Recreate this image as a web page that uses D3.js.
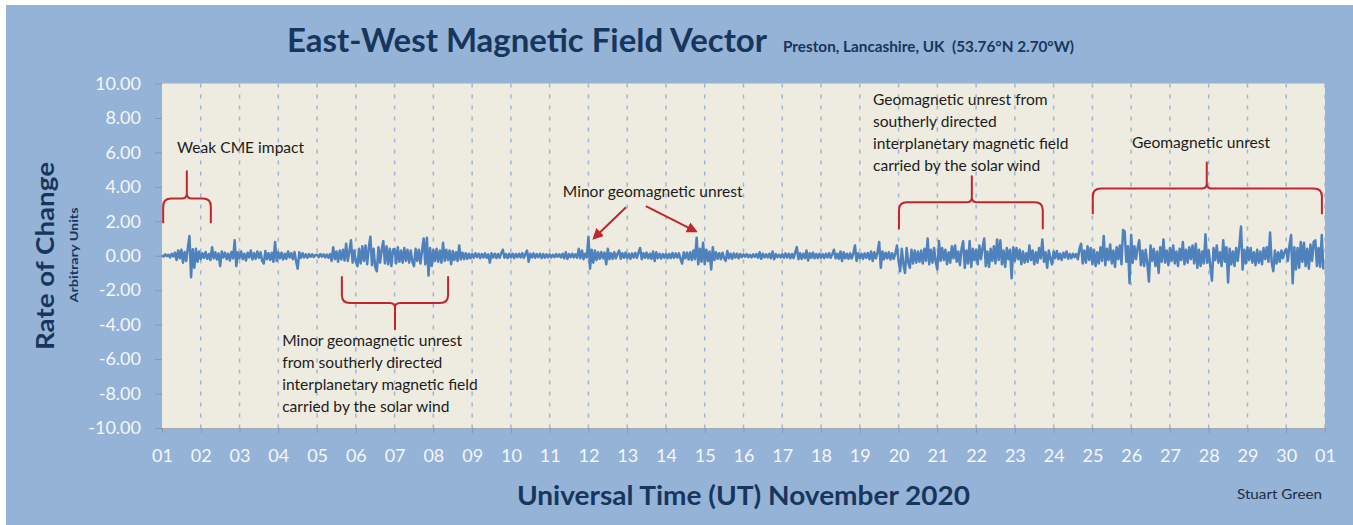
<!DOCTYPE html>
<html>
<head>
<meta charset="utf-8">
<script src="https://cdn.jsdelivr.net/npm/d3@7"></script>
<style>
    html, body { margin: 0; padding: 0; background: #ffffff; }
    svg { display: block; font-family: Lato, "Open Sans", sans-serif; }
</style>
</head>
<body>
<div id="chart"></div>
<script>
// x axis: one tick per day, 1 Nov .. 1 Dec
const dayLabels = ["01","02","03","04","05","06","07","08","09","10","11","12","13","14","15",
    "16","17","18","19","20","21","22","23","24","25","26","27","28","29","30","01"];
const yTicks = [10, 8, 6, 4, 2, 0, -2, -4, -6, -8, -10];

// hourly rate of change (hundredths of a unit), one row of 24 per day
const rateDays01to07 = [
    3,-5,8,-2,6,-10,12,-4,18,-25,30,-15,35,-40,22,-30,45,115,-125,38,-70,40,-35,25,
    -20,15,-12,22,-18,10,-25,50,-15,20,-22,14,-60,25,-10,18,-20,12,-28,22,-15,90,-60,20,
    -15,25,-20,12,-28,18,-10,30,-22,15,-18,25,-12,20,-30,-45,28,-20,15,-25,18,-35,80,-30,
    20,-15,18,-22,12,-18,25,-10,15,-20,22,-30,-75,20,-12,15,-10,8,-12,10,-6,9,-8,5,
    6,-8,10,-5,8,-10,7,-12,10,-30,50,-20,25,-35,30,-22,35,-28,70,-30,25,90,-40,30,
    -35,-60,40,-45,55,-30,60,-50,45,110,-55,40,-65,-90,50,-40,35,85,-45,55,-50,40,-60,35,
    40,-45,50,-35,30,-40,45,-30,35,-40,30,-35,-60,40,-30,35,-45,30,100,-50,105,-115,45,-60
];
const rateDays08to14 = [
    35,-30,40,-35,30,-40,75,-30,35,-25,30,-50,28,-25,20,-30,60,-22,18,-20,15,-18,12,-15,
    10,-12,15,-8,12,-14,10,-10,14,-12,8,-40,15,-10,12,-14,10,-12,15,35,-12,10,-14,12,
    -10,12,-14,10,-8,12,-10,15,-12,10,30,-35,12,-10,14,-12,10,-8,12,-14,10,-12,8,-10,
    8,-10,6,-8,10,-6,8,-10,12,-15,20,-18,10,-8,12,-10,8,-12,40,-15,30,-20,12,-10,
    110,-75,35,-40,30,-25,20,-18,22,-15,18,-50,40,-20,15,-18,20,-15,12,30,-18,15,-12,18,
    -15,12,-18,14,-10,16,-12,18,45,-20,15,-12,18,-15,12,-18,25,-30,20,-14,12,-16,10,-12,
    12,-15,10,-14,16,-12,14,-10,15,-18,-45,20,-15,18,-22,20,-25,30,-20,105,-50,40,-35,75
];
const rateDays15to21 = [
    -50,35,-30,25,-80,50,-25,20,-18,15,-20,18,-15,-30,28,-15,12,-18,14,-10,12,-15,10,-8,
    8,-6,10,-8,6,-10,8,-6,10,-12,20,-18,12,-10,8,-10,12,-15,25,-20,10,-8,6,-10,
    10,-12,14,-10,12,-15,10,-14,18,50,-20,15,-18,12,-14,30,-28,15,-12,18,-15,10,-14,12,
    -12,10,-14,12,-10,15,-12,10,35,-15,12,-18,25,-30,20,-15,12,-18,14,-16,12,60,-30,15,
    -15,12,-18,14,-12,16,-20,25,-30,20,-15,22,80,-70,25,-20,18,-15,20,-22,15,-18,12,60,
    -30,-90,40,-50,-100,45,-40,-70,35,-45,30,-40,25,-35,30,-45,40,-30,100,-50,35,-40,45,-35,
    -80,85,-30,45,-25,35,-50,20,-40,55,-15,60,-35,25,-55,40,85,-70,30,-45,85,-65,40,-25
];
const rateDays22to30 = [
    35,-50,60,-20,45,100,-60,25,-65,40,-30,55,-45,95,-25,90,-50,30,-65,45,-20,35,-130,50,
    -30,45,-20,35,-50,25,-40,15,-35,60,-25,30,-50,20,-40,45,-15,95,-35,20,-70,30,-15,-50,
    25,-15,28,-20,12,-25,18,-10,25,-18,10,-15,12,-8,10,-20,40,70,-45,30,-40,55,-25,45,
    -50,35,-60,20,-45,50,-30,115,-55,40,-25,65,-45,30,-65,50,-20,60,-50,150,140,-35,55,-160,
    120,-40,55,-20,45,90,-55,30,-60,35,-45,-150,60,-30,40,-60,25,-100,50,-35,95,-40,30,-55,
    45,-30,60,-45,25,-60,40,-25,80,-50,35,-40,50,-20,60,-45,70,-70,35,-60,25,-45,125,-40,
    30,-60,-145,45,-25,60,-40,20,-60,90,-35,50,-155,40,-50,25,-60,45,-30,60,170,-80,35,-45,
    50,-25,45,-40,20,-55,35,-40,25,-50,45,-20,50,-35,135,-40,-90,30,-45,20,-35,30,-15,25,
    40,-30,60,120,-160,50,-80,45,-70,80,-35,75,-60,40,-75,65,-30,80,90,-60,45,-65,120,-80
];

// annotation texts (day, value of first baseline)
const noteTexts = [
    { lines: ["Weak CME impact"], day: 1.39, value: 5.96 },
    { lines: ["Minor geomagnetic unrest", "from southerly directed",
              "interplanetary magnetic field", "carried by the solar wind"], day: 4.1, value: -5.24 },
    { lines: ["Minor geomagnetic unrest"], day: 11.34, value: 3.41 },
    { lines: ["Geomagnetic unrest from", "southerly directed",
              "interplanetary magnetic field", "carried by the solar wind"], day: 19.34, value: 8.75 },
    { lines: ["Geomagnetic unrest"], day: 26.02, value: 6.26 }
];
// curly braces: start day, tip day, end day, arm end value, bar value, tip value
const braces = [
    [1.03, 1.64, 2.26, 1.88, 3.33, 4.90],
    [5.64, 7.01, 8.38, -1.19, -2.75, -4.26],
    [20.01, 21.89, 23.72, 1.54, 3.10, 4.61],
    [25.01, 27.95, 30.92, 2.41, 3.91, 5.42]
];
// arrows: from day/value to day/value
const arrows = [
    [12.97, 2.82, 12.14, 1.02],
    [13.48, 2.88, 14.77, 1.42]
];

const rateValues = [...rateDays01to07, ...rateDays08to14, ...rateDays15to21, ...rateDays22to30];
const series = rateValues.map((v, i) => ({ t: 1 + i / 24, v: v / 100 }));

const width = 1353;
const height = 525;
const plotLeft = 162, plotRight = 1325, plotTop = 83.5, plotBottom = 428;
const navy = "#17365d";
const red = "#c0262d";

const svg = d3.select("#chart").append("svg")
    .attr("width", width)
    .attr("height", height);

// background panel and plot area
svg.append("rect")
    .attr("x", 6).attr("y", 5)
    .attr("width", width - 6).attr("height", height - 5)
    .attr("fill", "#95b3d7");

const x = d3.scaleLinear().domain([1, 31]).range([plotLeft, plotRight]);
const y = d3.scaleLinear().domain([-10, 10]).range([plotBottom, plotTop]);

svg.append("rect")
    .attr("x", plotLeft).attr("y", plotTop)
    .attr("width", plotRight - plotLeft).attr("height", plotBottom - plotTop)
    .attr("fill", "#eeece1");

// dashed day gridlines
svg.append("g")
    .selectAll("line")
    .data(d3.range(2, 32))
    .join("line")
    .attr("x1", d => x(d)).attr("x2", d => x(d))
    .attr("y1", plotTop).attr("y2", plotBottom)
    .attr("stroke", "#9fb5d3")
    .attr("stroke-width", 1.5)
    .attr("stroke-dasharray", "4,7");

// axes
const yAxis = svg.append("g")
    .attr("transform", `translate(${plotLeft},0)`)
    .call(d3.axisLeft(y).tickValues(yTicks).tickSize(7).tickPadding(14)
        .tickFormat(d => d.toFixed(2)));
yAxis.select(".domain").remove();
yAxis.selectAll(".tick line").attr("stroke", "#8a97aa");
yAxis.selectAll(".tick text")
    .attr("fill", "#f4f6fa")
    .attr("font-size", 18)
    .attr("font-family", "Lato, 'Open Sans', sans-serif");

const xAxis = svg.append("g")
    .attr("transform", `translate(0,${plotBottom})`)
    .call(d3.axisBottom(x).tickValues(d3.range(1, 32)).tickSize(5)
        .tickFormat((d, i) => dayLabels[i]));
xAxis.select(".domain").attr("stroke", "#a3a9b3").attr("stroke-width", 1.2);
xAxis.selectAll(".tick line").attr("stroke", "#8a97aa");
xAxis.selectAll(".tick text")
    .attr("fill", "#f4f6fa")
    .attr("font-size", 18)
    .attr("font-family", "Lato, 'Open Sans', sans-serif")
    .attr("y", 28)
    .attr("dy", "0.35em");

// signal
const line = d3.line()
    .x(d => x(d.t))
    .y(d => y(d.v));

svg.append("path")
    .datum(series)
    .attr("d", line)
    .attr("fill", "none")
    .attr("stroke", "#4f81bd")
    .attr("stroke-width", 2.5)
    .attr("stroke-linejoin", "round");

// curly braces
function bracePath(b) {
    const x0 = x(b[0]), xm = x(b[1]), x1 = x(b[2]);
    const yEnd = y(b[3]), yBar = y(b[4]), yTip = y(b[5]);
    const s = Math.sign(yEnd - yBar);
    const r = 8, r2 = 5;
    return `M${x0},${yEnd} V${yBar + s * r} Q${x0},${yBar} ${x0 + r},${yBar}` +
        ` H${xm - r2} Q${xm},${yBar} ${xm},${yBar - s * r2} V${yTip}` +
        ` V${yBar - s * r2} Q${xm},${yBar} ${xm + r2},${yBar}` +
        ` H${x1 - r} Q${x1},${yBar} ${x1},${yBar + s * r} V${yEnd}`;
}

svg.append("g")
    .selectAll("path")
    .data(braces)
    .join("path")
    .attr("d", bracePath)
    .attr("fill", "none")
    .attr("stroke", red)
    .attr("stroke-width", 2)
    .attr("stroke-linejoin", "round");

// arrows
svg.append("defs").append("marker")
    .attr("id", "arrowHead")
    .attr("viewBox", "0 0 10 10")
    .attr("refX", 8).attr("refY", 5)
    .attr("markerWidth", 11).attr("markerHeight", 11)
    .attr("markerUnits", "userSpaceOnUse")
    .attr("orient", "auto")
    .append("path")
    .attr("d", "M0,0 L10,5 L0,10 z")
    .attr("fill", red);

svg.append("g")
    .selectAll("line")
    .data(arrows)
    .join("line")
    .attr("x1", d => x(d[0])).attr("y1", d => y(d[1]))
    .attr("x2", d => x(d[2])).attr("y2", d => y(d[3]))
    .attr("stroke", red)
    .attr("stroke-width", 2)
    .attr("marker-end", "url(#arrowHead)");

// annotation text, sized so the reference line matches the picture width
const probe = svg.append("text")
    .attr("font-size", 100)
    .text("Minor geomagnetic unrest");
const noteSize = 100 * 180 / probe.node().getComputedTextLength();
probe.remove();

noteTexts.forEach(note => {
    const t = svg.append("text")
        .attr("x", x(note.day))
        .attr("y", y(note.value))
        .attr("font-size", noteSize)
        .attr("fill", "#1c1c1c");
    note.lines.forEach((ln, i) => {
        t.append("tspan")
            .attr("x", x(note.day))
            .attr("dy", i === 0 ? 0 : 22)
            .text(ln);
    });
});

// titles
function fitted(sel, w) {
    return sel.attr("textLength", w).attr("lengthAdjust", "spacingAndGlyphs");
}

fitted(svg.append("text")
    .attr("x", 287).attr("y", 52)
    .attr("font-size", 33)
    .attr("font-weight", 700)
    .attr("fill", navy)
    .text("East-West Magnetic Field Vector"), 480);

fitted(svg.append("text")
    .attr("x", 783).attr("y", 52)
    .attr("font-size", 16)
    .attr("font-weight", 700)
    .attr("fill", navy)
    .attr("xml:space", "preserve")
    .text("Preston, Lancashire, UK  (53.76°N 2.70°W)"), 291);

fitted(svg.append("text")
    .attr("transform", "translate(54,256) rotate(-90)")
    .attr("text-anchor", "middle")
    .attr("font-size", 24)
    .attr("font-weight", 700)
    .attr("fill", navy)
    .text("Rate of Change"), 188);

fitted(svg.append("text")
    .attr("transform", "translate(78,255) rotate(-90)")
    .attr("text-anchor", "middle")
    .attr("font-size", 11.5)
    .attr("font-weight", 700)
    .attr("fill", navy)
    .text("Arbitrary Units"), 95);

fitted(svg.append("text")
    .attr("x", 517).attr("y", 505)
    .attr("font-size", 27)
    .attr("font-weight", 700)
    .attr("fill", navy)
    .text("Universal Time (UT) November 2020"), 453);

fitted(svg.append("text")
    .attr("x", 1237).attr("y", 499)
    .attr("font-size", 14)
    .attr("fill", "#1c2b40")
    .text("Stuart Green"), 85);
</script>
</body>
</html>
